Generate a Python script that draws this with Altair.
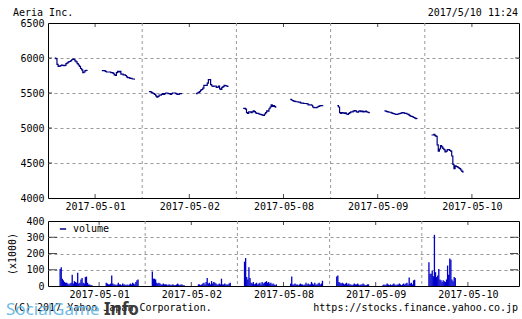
import altair as alt
import pandas as pd

# ---------------- data ----------------
days = ["2017-05-01", "2017-05-02", "2017-05-08", "2017-05-09", "2017-05-10"]

# 5-minute closing prices, morning (from 9:00) and afternoon (from 12:30) sessions
price_am = [
    [6000, 5990, 5910, 5880, 5885, 5890, 5900, 5895, 5890, 5895, 5920, 5930, 5945, 5950, 5960,
     5975, 5985, 5980, 5960, 5945, 5920, 5900, 5880, 5850, 5830, 5790, 5800, 5820, 5825, 5830],
    [5520, 5520, 5510, 5500, 5490, 5480, 5460, 5440, 5450, 5470, 5470, 5480, 5490, 5480, 5490,
     5500, 5500, 5490, 5490, 5480, 5490, 5500, 5500, 5500, 5490, 5480, 5480, 5490, 5490, 5500],
    [5280, 5280, 5270, 5220, 5210, 5230, 5230, 5220, 5230, 5245, 5235, 5215, 5210, 5210, 5200,
     5195, 5190, 5185, 5180, 5200, 5220, 5245, 5240, 5275, 5300, 5330, 5310, 5320, 5305, 5290],
    [5320, 5300, 5220, 5210, 5220, 5215, 5210, 5215, 5200, 5195, 5210, 5220, 5230, 5230, 5240,
     5250, 5245, 5230, 5225, 5240, 5245, 5235, 5240, 5230, 5235, 5240, 5230, 5225, 5220, 5220],
    [4900, 4900, 4910, 4890, 4880, 4760, 4670, 4700, 4750, 4730, 4710, 4690, 4660, 4670, 4690,
     4690, 4680, 4670, 4600, 4480, 4420, 4460, 4450, 4440, 4430, 4420, 4400, 4380, 4360],
]
price_pm = [
    [5820, 5820, 5820, 5810, 5800, 5800, 5800, 5800, 5790, 5790, 5780, 5760, 5750, 5790, 5810,
     5800, 5810, 5770, 5770, 5760, 5760, 5750, 5730, 5720, 5720, 5710, 5710, 5700, 5700, 5690],
    [5490, 5500, 5510, 5520, 5540, 5550, 5570, 5610, 5610, 5610, 5640, 5690, 5690, 5620, 5600,
     5595, 5600, 5600, 5580, 5585, 5600, 5560, 5550, 5580, 5590, 5610, 5605, 5600, 5595, 5595],
    [5410, 5400, 5390, 5385, 5380, 5375, 5375, 5370, 5370, 5360, 5355, 5355, 5350, 5350, 5350,
     5345, 5330, 5330, 5330, 5325, 5300, 5290, 5290, 5290, 5300, 5310, 5315, 5320, 5320, 5325],
    [5245, 5240, 5235, 5230, 5225, 5225, 5215, 5210, 5205, 5200, 5195, 5195, 5200, 5205, 5210,
     5215, 5220, 5215, 5210, 5210, 5200, 5195, 5180, 5170, 5165, 5160, 5150, 5140, 5135, 5130],
    [],
]

# 5-minute volume (x1000 shares)
vol_am = [
    [105, 116, 45, 35, 25, 20, 20, 15, 10, 15, 20, 69, 15, 30, 25, 20, 81, 15, 20, 40, 49, 20, 15, 55, 58, 20, 10, 10, 5, 5],
    [89, 45, 45, 40, 20, 15, 20, 15, 10, 10, 15, 10, 10, 10, 5, 10, 10, 5, 10, 10, 5, 5, 10, 15, 10, 5, 10, 10, 5, 5],
    [150, 172, 55, 40, 116, 49, 20, 15, 25, 10, 15, 20, 10, 15, 20, 10, 25, 15, 20, 25, 30, 20, 25, 15, 20, 10, 15, 10, 5, 10],
    [59, 65, 25, 20, 15, 20, 15, 10, 15, 20, 10, 15, 10, 10, 5, 10, 15, 10, 10, 15, 10, 5, 10, 10, 15, 10, 5, 5, 10, 10],
    [146, 75, 75, 95, 60, 315, 85, 55, 65, 105, 40, 35, 25, 35, 30, 25, 40, 126, 69, 170, 162, 40, 30, 55, 49],
]
vol_pm = [
    [20, 15, 10, 10, 15, 65, 15, 10, 10, 5, 10, 20, 10, 10, 5, 15, 10, 10, 5, 10, 5, 10, 15, 10, 20, 15, 10, 25, 35, 40],
    [10, 10, 5, 10, 15, 20, 10, 25, 50, 15, 20, 10, 30, 15, 25, 20, 15, 10, 10, 15, 10, 45, 10, 10, 15, 10, 10, 10, 15, 20],
    [15, 59, 10, 10, 15, 10, 10, 5, 10, 15, 10, 10, 5, 10, 20, 10, 15, 10, 10, 25, 15, 10, 20, 10, 10, 15, 20, 10, 15, 32],
    [5, 10, 5, 10, 15, 10, 5, 10, 5, 10, 15, 10, 5, 10, 10, 15, 10, 5, 10, 15, 10, 15, 20, 10, 53, 15, 20, 10, 35, 39],
    [],
]

price_ticks = [4000, 4500, 5000, 5500, 6000, 6500]
vol_ticks = [0, 100, 200, 300, 400]
title_text = "Aeria Inc."
stamp_text = "2017/5/10 11:24"
copyright_text = "(C) 2017 Yahoo Japan Corporation."
url_text = "https://stocks.finance.yahoo.co.jp"

# ---------------- table building ----------------
AM_START = 9 * 60
PM_START = 12 * 60 + 30
DAY_START = 8.5 * 60
DAY_LEN = 7 * 60
STEP = 5


def pos(d, minute):
    return d + (minute - DAY_START) / DAY_LEN


price_rows, vol_rows = [], []
for d in range(len(days)):
    for sess, start in (("am", AM_START), ("pm", PM_START)):
        pl = price_am[d] if sess == "am" else price_pm[d]
        vl = vol_am[d] if sess == "am" else vol_pm[d]
        for i, p in enumerate(pl):
            price_rows.append({"x": pos(d, start + STEP * i), "y": p, "seg": f"{d}{sess}"})
        for i, v in enumerate(vl):
            vol_rows.append({"x": pos(d, start + STEP * i + STEP / 2), "y": v, "series": "volume"})

price_df = pd.DataFrame(price_rows)
vol_df = pd.DataFrame(vol_rows)

n = len(days)
centers = [i + 0.5 for i in range(n)]
bounds_df = pd.DataFrame({"x": list(range(1, n))})
label_expr = "[" + ",".join(f"'{s}'" for s in days) + "][floor(datum.value)]"

FONT = "DejaVu Sans Mono"
GRID = "#999999"
W = 471
TOP_H = 175
BOT_H = 65
GAP = 23


def x_enc():
    return alt.X("x:Q", scale=alt.Scale(domain=[0, n], nice=False, zero=False),
                 axis=alt.Axis(values=centers, labelExpr=label_expr, grid=False, title=None,
                               labelPadding=3, labelFlush=False))


def y_enc(ticks, title=None):
    lo, hi = ticks[0], ticks[-1]
    grid_op = {"condition": {"test": f"datum.value <= {lo} || datum.value >= {hi}", "value": 0}, "value": 1}
    ax = dict(values=ticks, grid=True, gridDash=[3, 3], gridColor=GRID, gridOpacity=grid_op,
              labelPadding=4, format="d")
    if title:
        ax.update(title=title, titleFont=FONT, titleFontSize=10, titleFontWeight="normal",
                  titlePadding=8, titleColor="black")
    else:
        ax.update(title=None)
    return alt.Y("y:Q", scale=alt.Scale(domain=[lo, hi], nice=False, zero=False), axis=alt.Axis(**ax))


def frame_ticks(ticks, title=None):
    lo, hi = ticks[0], ticks[-1]
    inner = ticks[1:-1]
    tb = pd.DataFrame({"x": centers * 2, "y": [hi] * n + [lo] * n})
    lr = pd.DataFrame({"x": [0] * len(inner) + [n] * len(inner), "y": inner * 2})
    t1 = alt.Chart(tb).mark_tick(orient="vertical", size=8, thickness=1, color="black", clip=True).encode(
        x=x_enc(), y=y_enc(ticks, title))
    t2 = alt.Chart(lr).mark_tick(orient="horizontal", size=8, thickness=1, color="black", clip=True).encode(
        x=x_enc(), y=y_enc(ticks, title))
    return [t1, t2]


def txt(s, x, y, align="left", font=FONT, size=10, color="black", weight="normal", opacity=1.0):
    return alt.Chart(pd.DataFrame({"t": [s]})).mark_text(
        align=align, baseline="middle", font=font, fontSize=size, color=color,
        fontWeight=weight, opacity=opacity).encode(
        x=alt.value(x), y=alt.value(y), text="t:N")


vgrid = alt.Chart(bounds_df).mark_rule(strokeDash=[3, 3], color=GRID, strokeWidth=1).encode(x=x_enc())

price_line = alt.Chart(price_df).mark_line(
    interpolate="step-after", color="#000080", strokeWidth=1.2).encode(
    x=x_enc(), y=y_enc(price_ticks), detail="seg:N")

top = alt.layer(
    vgrid, price_line, *frame_ticks(price_ticks),
    txt(title_text, -35, -10),
    txt(stamp_text, W - 1, -10, align="right"),
).properties(width=W, height=TOP_H)

VOL_TITLE = "(x1000)"
vol_bars = alt.Chart(vol_df).mark_bar(width=1.3).encode(
    x=x_enc(), y=y_enc(vol_ticks, VOL_TITLE),
    color=alt.Color("series:N", scale=alt.Scale(range=["#0000c8"]),
                    legend=alt.Legend(orient="none", legendX=10, legendY=TOP_H + GAP + 3, title=None,
                                      symbolType="stroke", symbolStrokeColor="#000080",
                                      symbolStrokeWidth=1.5, symbolSize=40,
                                      labelFont=FONT, labelFontSize=10, labelOffset=5,
                                      labelColor="black")))

bottom = alt.layer(
    vgrid, vol_bars, *frame_ticks(vol_ticks, VOL_TITLE),
    txt(copyright_text, -35, 87),
    txt(url_text, W - 1, 87, align="right"),
    txt("SocialGame", -42, 89, font="Noto Sans", size=17, color="#6ab8e4", opacity=0.95),
    txt("Info", 56, 89, font="Noto Sans", size=17, color="#333333", weight="bold", opacity=0.95),
).properties(width=W, height=BOT_H)

chart = alt.vconcat(top, bottom, spacing=GAP, bounds="flush").properties(
    padding={"left": 5, "top": 7, "right": 0, "bottom": 0}, background="white"
).configure_view(stroke="black", strokeWidth=1).configure_axis(
    labelFont=FONT, labelFontSize=10, labelColor="black", domain=False, ticks=False
)

chart.save("out.html", embed_options={"renderer": "svg", "actions": False})
